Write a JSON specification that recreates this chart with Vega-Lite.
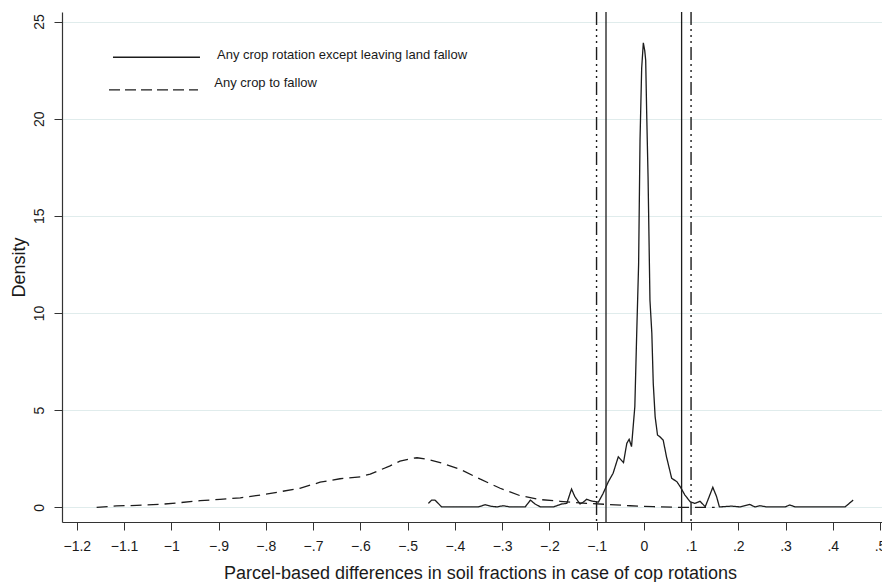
{
  "$schema": "https://vega.github.io/schema/vega-lite/v6.json",
  "width": 820,
  "height": 510,
  "autosize": {"type": "none"},
  "padding": {"left": 62, "top": 12, "right": 0, "bottom": 60},
  "background": "white",
  "config": {"view": {"stroke": null}, "font": "Liberation Sans"},
  "datasets": {
    "curves": [
      {"series": "rot", "x": -0.456, "d": 0.2},
      {"series": "rot", "x": -0.449, "d": 0.37},
      {"series": "rot", "x": -0.442, "d": 0.37},
      {"series": "rot", "x": -0.435, "d": 0.2},
      {"series": "rot", "x": -0.428, "d": 0.02},
      {"series": "rot", "x": -0.35, "d": 0.02},
      {"series": "rot", "x": -0.336, "d": 0.13},
      {"series": "rot", "x": -0.325, "d": 0.06},
      {"series": "rot", "x": -0.311, "d": 0.02},
      {"series": "rot", "x": -0.298, "d": 0.08},
      {"series": "rot", "x": -0.283, "d": 0.02},
      {"series": "rot", "x": -0.251, "d": 0.02},
      {"series": "rot", "x": -0.24, "d": 0.37},
      {"series": "rot", "x": -0.23, "d": 0.17},
      {"series": "rot", "x": -0.219, "d": 0.02},
      {"series": "rot", "x": -0.191, "d": 0.02},
      {"series": "rot", "x": -0.174, "d": 0.17},
      {"series": "rot", "x": -0.163, "d": 0.2},
      {"series": "rot", "x": -0.153, "d": 0.94},
      {"series": "rot", "x": -0.146, "d": 0.55},
      {"series": "rot", "x": -0.135, "d": 0.17},
      {"series": "rot", "x": -0.128, "d": 0.27},
      {"series": "rot", "x": -0.121, "d": 0.41},
      {"series": "rot", "x": -0.11, "d": 0.32},
      {"series": "rot", "x": -0.096, "d": 0.27},
      {"series": "rot", "x": -0.086, "d": 0.72},
      {"series": "rot", "x": -0.075, "d": 1.32},
      {"series": "rot", "x": -0.065, "d": 1.75},
      {"series": "rot", "x": -0.054, "d": 2.6},
      {"series": "rot", "x": -0.043, "d": 2.3},
      {"series": "rot", "x": -0.036, "d": 3.29},
      {"series": "rot", "x": -0.031, "d": 3.5},
      {"series": "rot", "x": -0.026, "d": 3.12},
      {"series": "rot", "x": -0.019, "d": 5.18},
      {"series": "rot", "x": -0.015, "d": 8.96},
      {"series": "rot", "x": -0.011, "d": 12.5},
      {"series": "rot", "x": -0.008, "d": 18.9},
      {"series": "rot", "x": -0.0045, "d": 22.6},
      {"series": "rot", "x": -0.001, "d": 23.9},
      {"series": "rot", "x": 0.002, "d": 23.5},
      {"series": "rot", "x": 0.004, "d": 23.0},
      {"series": "rot", "x": 0.006, "d": 20.4},
      {"series": "rot", "x": 0.009, "d": 17.0},
      {"series": "rot", "x": 0.013, "d": 10.67},
      {"series": "rot", "x": 0.017, "d": 8.96},
      {"series": "rot", "x": 0.02, "d": 6.38},
      {"series": "rot", "x": 0.024, "d": 4.66},
      {"series": "rot", "x": 0.029, "d": 3.72},
      {"series": "rot", "x": 0.034, "d": 3.63},
      {"series": "rot", "x": 0.041, "d": 3.46},
      {"series": "rot", "x": 0.048, "d": 2.6},
      {"series": "rot", "x": 0.059, "d": 1.49},
      {"series": "rot", "x": 0.07, "d": 1.32},
      {"series": "rot", "x": 0.077, "d": 1.06},
      {"series": "rot", "x": 0.087, "d": 0.63},
      {"series": "rot", "x": 0.098, "d": 0.29},
      {"series": "rot", "x": 0.108, "d": 0.2},
      {"series": "rot", "x": 0.119, "d": 0.31},
      {"series": "rot", "x": 0.13, "d": 0.03},
      {"series": "rot", "x": 0.137, "d": 0.46},
      {"series": "rot", "x": 0.146, "d": 1.03},
      {"series": "rot", "x": 0.154, "d": 0.55},
      {"series": "rot", "x": 0.16, "d": 0.02},
      {"series": "rot", "x": 0.186, "d": 0.06},
      {"series": "rot", "x": 0.203, "d": 0.02},
      {"series": "rot", "x": 0.224, "d": 0.15},
      {"series": "rot", "x": 0.235, "d": 0.02},
      {"series": "rot", "x": 0.246, "d": 0.08},
      {"series": "rot", "x": 0.26, "d": 0.02},
      {"series": "rot", "x": 0.299, "d": 0.02},
      {"series": "rot", "x": 0.309, "d": 0.12},
      {"series": "rot", "x": 0.32, "d": 0.02},
      {"series": "rot", "x": 0.426, "d": 0.02},
      {"series": "rot", "x": 0.443, "d": 0.37},
      {"series": "fallow", "x": -1.158, "d": 0.0},
      {"series": "fallow", "x": -1.116, "d": 0.07},
      {"series": "fallow", "x": -1.073, "d": 0.1},
      {"series": "fallow", "x": -1.024, "d": 0.15},
      {"series": "fallow", "x": -0.981, "d": 0.24},
      {"series": "fallow", "x": -0.939, "d": 0.34},
      {"series": "fallow", "x": -0.897, "d": 0.41},
      {"series": "fallow", "x": -0.854, "d": 0.49},
      {"series": "fallow", "x": -0.812, "d": 0.63},
      {"series": "fallow", "x": -0.77, "d": 0.8},
      {"series": "fallow", "x": -0.728, "d": 0.98},
      {"series": "fallow", "x": -0.685, "d": 1.29},
      {"series": "fallow", "x": -0.643, "d": 1.47},
      {"series": "fallow", "x": -0.6, "d": 1.57},
      {"series": "fallow", "x": -0.579, "d": 1.71},
      {"series": "fallow", "x": -0.558, "d": 1.92},
      {"series": "fallow", "x": -0.537, "d": 2.13},
      {"series": "fallow", "x": -0.516, "d": 2.38},
      {"series": "fallow", "x": -0.494, "d": 2.5},
      {"series": "fallow", "x": -0.48, "d": 2.55},
      {"series": "fallow", "x": -0.459, "d": 2.47},
      {"series": "fallow", "x": -0.431, "d": 2.3},
      {"series": "fallow", "x": -0.389, "d": 1.96},
      {"series": "fallow", "x": -0.347, "d": 1.46},
      {"series": "fallow", "x": -0.304, "d": 0.98},
      {"series": "fallow", "x": -0.262, "d": 0.6},
      {"series": "fallow", "x": -0.22, "d": 0.4},
      {"series": "fallow", "x": -0.177, "d": 0.31},
      {"series": "fallow", "x": -0.121, "d": 0.2},
      {"series": "fallow", "x": -0.078, "d": 0.15},
      {"series": "fallow", "x": -0.029, "d": 0.08},
      {"series": "fallow", "x": 0.02, "d": 0.03},
      {"series": "fallow", "x": 0.07, "d": 0.0},
      {"series": "fallow", "x": 0.15, "d": 0.0}
    ],
    "vsolid": [{"v": -0.08}, {"v": 0.08}],
    "vdashdot": [{"v": -0.1}, {"v": 0.1}]
  },
  "layer": [
    {
      "data": {"name": "curves"},
      "mark": {"type": "line", "color": "#1c1c1c", "strokeWidth": 1.3, "interpolate": "linear"},
      "encoding": {
        "x": {
          "field": "x", "type": "quantitative",
          "scale": {"domain": [-1.2313, 0.5041], "nice": false, "zero": false},
          "axis": {
            "values": [-1.2, -1.1, -1, -0.9, -0.8, -0.7, -0.6, -0.5, -0.4, -0.3, -0.2, -0.1, 0, 0.1, 0.2, 0.3, 0.4, 0.5],
            "labelExpr": "datum.value == 0 ? '0' : replace(format(datum.value, '.1~f'), '0.', '.')",
            "title": "Parcel-based differences in soil fractions in case of cop rotations",
            "grid": false,
            "domainColor": "#333333", "domainWidth": 1.2,
            "tickColor": "#333333", "tickSize": 8, "tickWidth": 1,
            "labelFont": "Liberation Sans", "labelFontSize": 14, "labelColor": "#1a1a1a",
            "labelBaseline": "alphabetic", "labelPadding": 20, "labelFlush": false, "labelOverlap": false,
            "titleFont": "Liberation Sans", "titleFontSize": 18, "titleFontWeight": "normal", "titleColor": "#1a1a1a",
            "titleX": 418, "titleY": 56, "titleAlign": "center", "titleBaseline": "alphabetic", "titleAnchor": null
          }
        },
        "y": {
          "field": "d", "type": "quantitative",
          "scale": {"domain": [-0.7566, 25.49], "nice": false, "zero": false},
          "axis": {
            "values": [0, 5, 10, 15, 20, 25],
            "title": "Density",
            "grid": true, "gridColor": "#e0ecec", "gridWidth": 1.2,
            "domainColor": "#333333", "domainWidth": 1.2,
            "tickColor": "#333333", "tickSize": 8, "tickWidth": 1,
            "labelFont": "Liberation Sans", "labelFontSize": 14, "labelColor": "#1a1a1a",
            "labelAngle": -90, "labelAlign": "center", "labelBaseline": "alphabetic", "labelPadding": 11,
            "labelFlush": false, "labelOverlap": false,
            "titleFont": "Liberation Sans", "titleFontSize": 18, "titleFontWeight": "normal", "titleColor": "#1a1a1a",
            "titleAngle": -90, "titleX": -38, "titleY": 255, "titleAlign": "center", "titleBaseline": "alphabetic", "titleAnchor": null
          }
        },
        "detail": {"field": "series"},
        "strokeDash": {
          "field": "series", "type": "nominal",
          "scale": {"domain": ["rot", "fallow"], "range": [[1, 0], [11, 6]]},
          "legend": null
        }
      }
    },
    {
      "data": {"name": "vsolid"},
      "mark": {"type": "rule", "color": "#1c1c1c", "strokeWidth": 1.3},
      "encoding": {"x": {"field": "v", "type": "quantitative"}}
    },
    {
      "data": {"name": "vdashdot"},
      "mark": {"type": "rule", "color": "#1c1c1c", "strokeWidth": 1.4, "strokeDash": [13, 4, 2, 4, 2, 4, 2, 4]},
      "encoding": {"x": {"field": "v", "type": "quantitative"}}
    },
    {
      "data": {"values": [{"label": "Any crop rotation except leaving land fallow"}]},
      "layer": [
        {
          "mark": {"type": "rule", "color": "#1c1c1c", "strokeWidth": 1.3},
          "encoding": {"x": {"datum": -1.1234}, "x2": {"datum": -0.9393}, "y": {"datum": 23.16}}
        },
        {
          "mark": {"type": "text", "align": "left", "baseline": "middle", "font": "Liberation Sans", "fontSize": 13, "color": "#1a1a1a"},
          "encoding": {"x": {"datum": -0.9033}, "y": {"datum": 23.28}, "text": {"field": "label"}}
        }
      ]
    },
    {
      "data": {"values": [{"label": "Any crop to fallow"}]},
      "layer": [
        {
          "mark": {"type": "rule", "color": "#1c1c1c", "strokeWidth": 1.3, "strokeDash": [11, 5]},
          "encoding": {"x": {"datum": -1.1318}, "x2": {"datum": -0.9435}, "y": {"datum": 21.48}}
        },
        {
          "mark": {"type": "text", "align": "left", "baseline": "middle", "font": "Liberation Sans", "fontSize": 13, "color": "#1a1a1a"},
          "encoding": {"x": {"datum": -0.909}, "y": {"datum": 21.84}, "text": {"field": "label"}}
        }
      ]
    }
  ]
}
